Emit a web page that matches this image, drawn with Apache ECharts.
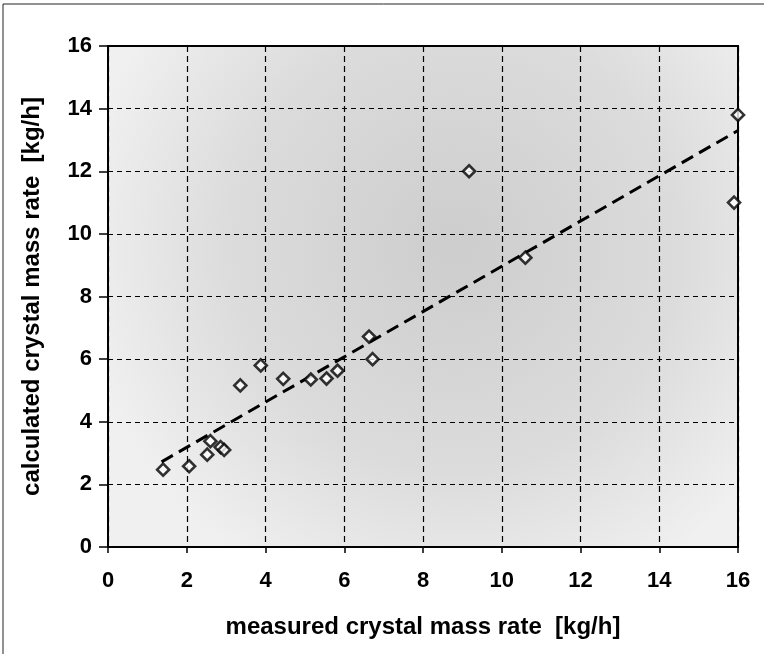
<!DOCTYPE html>
<html>
<head>
<meta charset="utf-8">
<script src="https://cdn.jsdelivr.net/npm/echarts@6/dist/echarts.min.js"></script>
<style>
html,body{margin:0;padding:0;background:#fff;}
#c{width:764px;height:654px;}
</style>
</head>
<body>
<div id="c"></div>
<script>
// measured crystal mass rate [kg/h]
var measured = [1.4, 2.06, 2.52, 2.6, 2.86, 2.95, 3.36, 3.88, 4.45, 5.15, 5.55, 5.83, 6.63, 6.72, 9.17, 10.6, 15.9, 16.0];
// calculated crystal mass rate [kg/h]
var calculated = [2.47, 2.58, 2.95, 3.38, 3.19, 3.1, 5.16, 5.8, 5.37, 5.35, 5.38, 5.63, 6.72, 6.0, 12.0, 9.24, 11.0, 13.8];
// trend line endpoints
var trendX = [1.36, 16.0];
var trendY = [2.72, 13.3];
var xTicks = [0, 2, 4, 6, 8, 10, 12, 14, 16];
var yTicks = [0, 2, 4, 6, 8, 10, 12, 14, 16];

var pts = measured.map(function (x, i) { return [x, calculated[i]]; });
var trend = trendX.map(function (x, i) { return [x, trendY[i]]; });

var font = "'Liberation Sans', Arial, sans-serif";
var chart = echarts.init(document.getElementById('c'), null, { renderer: 'canvas' });

var axisCommon = {
  type: 'value',
  min: xTicks[0],
  max: xTicks[xTicks.length - 1],
  interval: 2,
  axisLine: { show: true, lineStyle: { color: '#000', width: 2 } },
  axisTick: { show: true, length: 7, lineStyle: { color: '#000', width: 1.5 } },
  splitLine: { show: true, lineStyle: { color: '#000', width: 1.2, type: [6, 4] } },
  nameLocation: 'middle',
  nameTextStyle: { color: '#000', fontSize: 24, fontWeight: 'bold', fontFamily: font },
  axisLabel: { color: '#000', fontSize: 22, fontWeight: 'bold', fontFamily: font }
};

chart.setOption({
  animation: false,
  backgroundColor: '#fff',
  grid: {
    left: 108, right: 26, top: 46, bottom: 107,
    show: true,
    borderColor: '#000', borderWidth: 2,
    backgroundColor: {
      type: 'radial', x: 0.55, y: 0.4, r: 0.75,
      colorStops: [
        { offset: 0, color: '#cdcdcd' },
        { offset: 0.6, color: '#dcdcdc' },
        { offset: 1, color: '#f0f0f0' }
      ]
    }
  },
  xAxis: Object.assign({}, axisCommon, {
    name: 'measured crystal mass rate  [kg/h]',
    nameGap: 68,
    axisTick: { show: true, length: 6, lineStyle: { color: '#000', width: 1.5 } },
    axisLabel: Object.assign({}, axisCommon.axisLabel, { margin: 23 })
  }),
  yAxis: Object.assign({}, axisCommon, {
    min: yTicks[0], max: yTicks[yTicks.length - 1],
    name: 'calculated crystal mass rate  [kg/h]',
    nameGap: 64,
    axisTick: { show: true, length: 9, lineStyle: { color: '#000', width: 1.5 } },
    splitLine: { show: true, lineStyle: { color: '#000', width: 1.2, type: [5, 4] } },
    axisLabel: Object.assign({}, axisCommon.axisLabel, { margin: 16 })
  }),
  graphic: [
    { type: 'line', shape: { x1: 3, y1: 4, x2: 764, y2: 4 }, style: { stroke: '#222', lineWidth: 1 } },
    { type: 'line', shape: { x1: 3, y1: 4, x2: 3, y2: 654 }, style: { stroke: '#222', lineWidth: 1 } }
  ],
  series: [
    {
      type: 'line',
      data: trend,
      symbol: 'none',
      lineStyle: { color: '#000', width: 3, type: [13, 7] },
      z: 3
    },
    {
      type: 'scatter',
      data: pts,
      symbol: 'diamond',
      symbolSize: 12,
      clip: false,
      itemStyle: { color: '#fff', borderColor: '#000', borderWidth: 2.6 },
      z: 4
    }
  ]
});
</script>
</body>
</html>
